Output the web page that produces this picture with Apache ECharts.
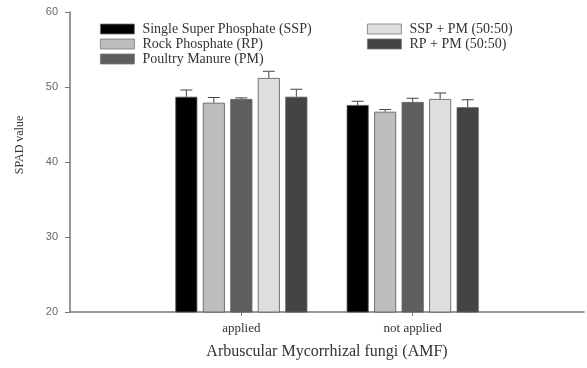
<!DOCTYPE html>
<html>
<head>
<meta charset="utf-8">
<script src="https://cdn.jsdelivr.net/npm/echarts@6/dist/echarts.min.js"></script>
<style>
	html, body { margin: 0; padding: 0; background: #fff; }
	#chart { width: 587px; height: 368px; }
</style>
</head>
<body>
<div id="chart"></div>
<script>
// groups on the x axis (padded with blanks at both ends, like the original 0..3 scale)
var categories = ['', 'applied', 'not applied', ''];
var seriesNames = ['Single Super Phosphate (SSP)', 'Rock Phosphate (RP)', 'Poultry Manure (PM)', 'SSP + PM (50:50)', 'RP + PM (50:50)'];
var seriesColors = ['#000000', '#bdbdbd', '#5e5e5e', '#dedede', '#444444'];

// SPAD values: applied, not applied
var sspValues = [48.7, 47.6];
var rpValues = [47.9, 46.7];
var pmValues = [48.4, 48.0];
var sspPmValues = [51.2, 48.4];
var rpPmValues = [48.7, 47.3];

// standard errors (drawn upward only)
var sspErr = [0.9, 0.5];
var rpErr = [0.7, 0.3];
var pmErr = [0.15, 0.5];
var sspPmErr = [0.9, 0.8];
var rpPmErr = [1.0, 1.0];

var yTicks = [20, 30, 40, 50, 60];

var allValues = [sspValues, rpValues, pmValues, sspPmValues, rpPmValues];
var allErr = [sspErr, rpErr, pmErr, sspPmErr, rpPmErr];

var BAR_W = 22;
var BAR_GAP = 0.25;
var serif = 'Liberation Serif';

function pad(arr) {
	return [null].concat(arr).concat([null]);
}

var myChart = echarts.init(document.getElementById('chart'));

var series = [];
allValues.forEach(function (vals, i) {
	series.push({
		name: seriesNames[i],
		type: 'bar',
		data: pad(vals),
		barWidth: BAR_W,
		barGap: (BAR_GAP * 100) + '%',
		itemStyle: { color: seriesColors[i], borderColor: '#555', borderWidth: 0.8 },
		z: 2
	});
});

allValues.forEach(function (vals, i) {
	var errData = vals.map(function (v, k) { return [k + 1, v, v + allErr[i][k]]; });
	var offset = (i - (allValues.length - 1) / 2) * BAR_W * (1 + BAR_GAP);
	series.push({
		type: 'custom',
		name: seriesNames[i] + ' err',
		z: 3,
		silent: true,
		data: errData,
		renderItem: function (params, api) {
			var low = api.coord([api.value(0), api.value(1)]);
			var high = api.coord([api.value(0), api.value(2)]);
			var x = low[0] + offset;
			var style = { stroke: '#444', lineWidth: 1 };
			return {
				type: 'group',
				children: [
					{ type: 'line', shape: { x1: x, y1: low[1], x2: x, y2: high[1] }, style: style },
					{ type: 'line', shape: { x1: x - 6, y1: high[1], x2: x + 6, y2: high[1] }, style: style }
				]
			};
		}
	});
});

var legendText = { fontFamily: serif, fontSize: 14, color: '#333', padding: [0, 0, 0, 3] };

var option = {
	animation: false,
	grid: { left: 70, top: 12, width: 522, height: 300 },
	legend: [{
		data: seriesNames.slice(0, 3),
		orient: 'vertical',
		left: 95, top: 17,
		icon: 'rect',
		itemWidth: 34, itemHeight: 10, itemGap: 1,
		itemStyle: { borderWidth: 0.8, borderColor: '#777' },
		textStyle: legendText
	}, {
		data: seriesNames.slice(3),
		orient: 'vertical',
		left: 362, top: 17,
		icon: 'rect',
		itemWidth: 34, itemHeight: 10, itemGap: 1,
		itemStyle: { borderWidth: 0.8, borderColor: '#777' },
		textStyle: legendText
	}],
	xAxis: {
		type: 'category',
		data: categories,
		boundaryGap: false,
		name: 'Arbuscular Mycorrhizal fungi (AMF)',
		nameLocation: 'middle',
		nameGap: 32,
		nameTextStyle: { fontFamily: serif, fontSize: 16, color: '#333' },
		axisLine: { lineStyle: { color: '#777', width: 1.5 } },
		axisTick: {
			length: 4,
			interval: function (index) { return index === 1 || index === 2; },
			lineStyle: { color: '#777' }
		},
		axisLabel: { interval: 0, margin: 10, fontFamily: serif, fontSize: 13, color: '#333' },
		splitLine: { show: false }
	},
	yAxis: {
		type: 'value',
		min: yTicks[0],
		max: yTicks[yTicks.length - 1],
		interval: 10,
		name: 'SPAD value',
		nameLocation: 'middle',
		nameGap: 44,
		nameTextStyle: { fontFamily: serif, fontSize: 12, color: '#333', padding: [0, 0, 0, 34] },
		axisLine: { show: true, lineStyle: { color: '#777', width: 1.5 } },
		axisTick: { show: true, length: 5, lineStyle: { color: '#777' } },
		axisLabel: { margin: 12, fontFamily: 'Liberation Sans', fontSize: 11, color: '#666' },
		splitLine: { show: false }
	},
	series: series
};

myChart.setOption(option);
</script>
</body>
</html>
